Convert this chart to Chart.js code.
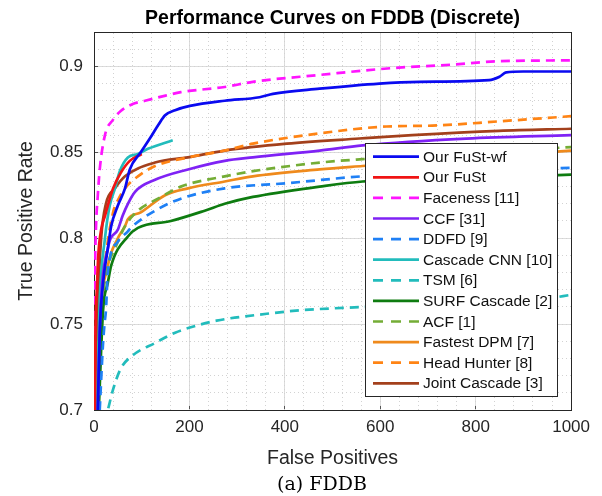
<!DOCTYPE html>
<html>
<head>
<meta charset="utf-8">
<script src="https://cdn.jsdelivr.net/npm/chart.js@4.4.1/dist/chart.umd.min.js"></script>
<style>
  body { margin: 0; background: #fff; }
  #wrap { width: 602px; height: 496px; }
</style>
</head>
<body>
<div id="wrap"><canvas id="chartFddb" width="602" height="496"></canvas></div>
<script>
// FDDB discrete ROC (false positives -> true positive rate)
const seriesNames = ['Our FuSt-wf', 'Our FuSt', 'Faceness [11]', 'CCF [31]', 'DDFD [9]', 'Cascade CNN [10]',
    'TSM [6]', 'SURF Cascade [2]', 'ACF [1]', 'Fastest DPM [7]', 'Head Hunter [8]', 'Joint Cascade [3]'];

const fustWfFp = [8, 12, 19, 29, 36, 50, 65, 75, 98, 117, 135, 149, 170, 201, 274, 347, 375, 473, 598, 682, 828, 850, 864, 900, 1000];
const fustWfTpr = [0.700, 0.745, 0.774, 0.794, 0.807, 0.819, 0.829, 0.840, 0.850, 0.858, 0.866, 0.8715, 0.8745, 0.877, 0.880, 0.882, 0.884, 0.887, 0.890, 0.891, 0.892, 0.894, 0.8965, 0.897, 0.897];

const fustFp = [2, 3, 6, 9, 15, 23, 40, 56, 75, 100];
const fustTpr = [0.700, 0.745, 0.770, 0.790, 0.805, 0.813, 0.829, 0.838, 0.845, 0.849];

const facenessFp = [0, 1, 2, 4, 8, 12, 23, 40, 56, 80, 107, 150, 182, 274, 333, 473, 625, 750, 849, 1000];
const facenessTpr = [0.700, 0.750, 0.780, 0.805, 0.825, 0.840, 0.860, 0.869, 0.874, 0.878, 0.880, 0.883, 0.885, 0.888, 0.891, 0.895, 0.899, 0.901, 0.903, 0.9035];

const ccfFp = [8, 12, 29, 50, 60, 71, 86, 128, 197, 274, 333, 473, 563, 780, 1000];
const ccfTpr = [0.700, 0.747, 0.794, 0.805, 0.813, 0.820, 0.827, 0.834, 0.840, 0.845, 0.847, 0.851, 0.854, 0.858, 0.860];

const ddfdFp = [12, 19, 22, 25, 29, 50, 71, 77, 128, 182, 274, 404, 563, 800, 1000];
const ddfdTpr = [0.700, 0.739, 0.750, 0.758, 0.780, 0.798, 0.804, 0.806, 0.816, 0.823, 0.829, 0.832, 0.836, 0.839, 0.841];

const cascadeCnnFp = [6, 12, 23, 33, 44, 54, 71, 92, 113, 165];
const cascadeCnnTpr = [0.700, 0.764, 0.800, 0.819, 0.829, 0.839, 0.847, 0.849, 0.852, 0.857];

const tsmFp = [30, 40, 56, 82, 128, 170, 201, 257, 362, 431, 563, 700, 850, 950, 1000];
const tsmTpr = [0.701, 0.712, 0.724, 0.732, 0.739, 0.745, 0.748, 0.752, 0.756, 0.758, 0.760, 0.762, 0.764, 0.765, 0.767];

const surfFp = [10, 19, 29, 36, 71, 92, 161, 232, 274, 333, 473, 563, 800, 1000];
const surfTpr = [0.700, 0.758, 0.774, 0.784, 0.801, 0.806, 0.810, 0.816, 0.820, 0.824, 0.830, 0.833, 0.835, 0.837];

const acfFp = [6, 12, 20, 30, 44, 65, 92, 134, 182, 274, 333, 473, 563, 800, 1000];
const acfTpr = [0.700, 0.750, 0.770, 0.785, 0.794, 0.807, 0.816, 0.823, 0.830, 0.836, 0.839, 0.844, 0.846, 0.850, 0.853];

const fastDpmFp = [7, 12, 29, 50, 65, 71, 98, 149, 197, 274, 333, 473, 563, 800, 1000];
const fastDpmTpr = [0.700, 0.747, 0.784, 0.800, 0.807, 0.811, 0.815, 0.825, 0.829, 0.833, 0.836, 0.840, 0.842, 0.847, 0.851];

const headHunterFp = [8, 15, 25, 40, 50, 65, 92, 128, 197, 274, 333, 473, 613, 709, 849, 1000];
const headHunterTpr = [0.700, 0.760, 0.790, 0.815, 0.822, 0.829, 0.836, 0.842, 0.847, 0.851, 0.855, 0.861, 0.865, 0.8655, 0.868, 0.871];

const jointFp = [3, 8, 15, 25, 44, 65, 128, 197, 274, 404, 556, 667, 849, 1000];
const jointTpr = [0.700, 0.760, 0.800, 0.820, 0.829, 0.836, 0.844, 0.847, 0.851, 0.855, 0.858, 0.860, 0.8625, 0.8637];

const seriesFp = [fustWfFp, fustFp, facenessFp, ccfFp, ddfdFp, cascadeCnnFp, tsmFp, surfFp, acfFp, fastDpmFp, headHunterFp, jointFp];
const seriesTpr = [fustWfTpr, fustTpr, facenessTpr, ccfTpr, ddfdTpr, cascadeCnnTpr, tsmTpr, surfTpr, acfTpr, fastDpmTpr, headHunterTpr, jointTpr];
const seriesColors = ['#0a0af0', '#f01414', '#ff14ff', '#7f22f5', '#1f80f5', '#22bcbc',
    '#22bcbc', '#0e7c10', '#74ad36', '#ef8a1c', '#ff8414', '#a3401c'];
const seriesDashed = [false, false, true, false, true, false, true, false, true, false, true, false];

const xTicks = [0, 200, 400, 600, 800, 1000];
const yTicks = [0.7, 0.75, 0.8, 0.85, 0.9];

const textColor = '#262626';
const fontFamily = '"Liberation Sans", Arial, Helvetica, sans-serif';

let datasets = seriesNames.map(function (name, i) {
    return {
        label: name,
        data: seriesFp[i].map(function (fp, j) { return { x: fp, y: seriesTpr[i][j] }; }),
        borderColor: seriesColors[i],
        backgroundColor: seriesColors[i],
        borderWidth: 2.7,
        borderDash: seriesDashed[i] ? [9, 6] : [],
        pointRadius: 0,
        cubicInterpolationMode: 'monotone',
        clip: 0,
        xAxisID: 'x',
        yAxisID: 'y'
    };
});

// legend drawn as a box inside the plot, like the matlab one
const insideLegend = {
    id: 'insideLegend',
    afterDraw: function (chart) {
        let ctx = chart.ctx;
        let left = 365, top = 143, right = 557, bottom = 396;
        ctx.save();
        ctx.fillStyle = '#fff';
        ctx.fillRect(left, top, right - left, bottom - top);
        ctx.strokeStyle = textColor;
        ctx.lineWidth = 1;
        ctx.strokeRect(left + 0.5, top + 0.5, right - left, bottom - top);
        chart.data.datasets.forEach(function (ds, i) {
            let y = 156.7 + i * 20.6;
            ctx.beginPath();
            ctx.setLineDash(ds.borderDash.length ? [10, 8] : []);
            ctx.strokeStyle = ds.borderColor;
            ctx.lineWidth = 2.7;
            ctx.moveTo(373, y);
            ctx.lineTo(419, y);
            ctx.stroke();
            ctx.setLineDash([]);
            ctx.fillStyle = '#111';
            ctx.font = '15.5px ' + fontFamily;
            ctx.textAlign = 'left';
            ctx.textBaseline = 'middle';
            ctx.fillText(ds.label, 423, y + 0.8);
        });
        ctx.restore();
    }
};

const caption = {
    id: 'caption',
    afterDraw: function (chart) {
        let ctx = chart.ctx;
        ctx.save();
        ctx.fillStyle = '#000';
        ctx.font = '19px "DejaVu Serif", "Liberation Serif", serif';
        ctx.textAlign = 'center';
        ctx.textBaseline = 'alphabetic';
        ctx.fillText('(a) FDDB', 322, 490);
        ctx.restore();
    }
};

let chartFddbCanvas = document.getElementById('chartFddb');
let chartFddb = new Chart(chartFddbCanvas, {
    type: 'line',
    data: { datasets: datasets },
    options: {
        responsive: false,
        maintainAspectRatio: false,
        devicePixelRatio: 1,
        animation: false,
        layout: { padding: { left: 0, right: 30, top: 0, bottom: 26 } },
        plugins: {
            legend: { display: false },
            tooltip: { enabled: false },
            title: {
                display: true,
                fullSize: false,
                text: 'Performance Curves on FDDB (Discrete)',
                color: '#000',
                font: { family: fontFamily, size: 19.5, weight: 'bold' },
                padding: { top: 7, bottom: 1.6 }
            }
        },
        scales: {
            x: {
                type: 'linear', position: 'bottom', min: xTicks[0], max: xTicks[xTicks.length - 1],
                afterBuildTicks: function (s) { s.ticks = xTicks.map(function (v) { return { value: v }; }); },
                ticks: { padding: 12, color: textColor, font: { family: fontFamily, size: 17 }, maxRotation: 0,
                    callback: function (v) { return String(v); } },
                grid: { color: '#dcdcdc', drawTicks: true, tickLength: -5, tickColor: '#555' },
                border: { color: textColor, width: 1 },
                title: { display: true, text: 'False Positives', color: textColor,
                    font: { family: fontFamily, size: 19.5 }, padding: { top: 0, bottom: 0 } },
                afterFit: function (s) { s.height = 60; }
            },
            xMinor: {
                type: 'linear', position: 'top', min: 0, max: 1000,
                ticks: { stepSize: 40, display: false },
                grid: { color: '#d2d2d2', drawTicks: false, z: -1 },
                border: { color: textColor, width: 1, dash: [1, 3] },
                afterFit: function (s) { s.height = 0; }
            },
            y: {
                type: 'linear', position: 'left', min: 0.7, max: 0.92,
                afterBuildTicks: function (s) { s.ticks = yTicks.map(function (v) { return { value: v }; }); },
                ticks: { padding: 16, color: textColor, font: { family: fontFamily, size: 17 },
                    callback: function (v) { return String(+v.toFixed(2)); } },
                grid: { color: '#dcdcdc', drawTicks: true, tickLength: -5, tickColor: '#555' },
                border: { color: textColor, width: 1 },
                title: { display: true, text: 'True Positive Rate', color: textColor,
                    font: { family: fontFamily, size: 19.5 }, padding: { top: 14.5, bottom: 0 } },
                afterFit: function (s) { s.width = 94; }
            },
            yMinor: {
                type: 'linear', position: 'right', min: 0.7, max: 0.92,
                ticks: { stepSize: 0.01, display: false, includeBounds: false },
                grid: { color: '#d2d2d2', drawTicks: false, z: -1 },
                border: { color: textColor, width: 1, dash: [1, 3] },
                afterFit: function (s) { s.width = 0; }
            }
        }
    },
    plugins: [insideLegend, caption]
});
</script>
</body>
</html>
